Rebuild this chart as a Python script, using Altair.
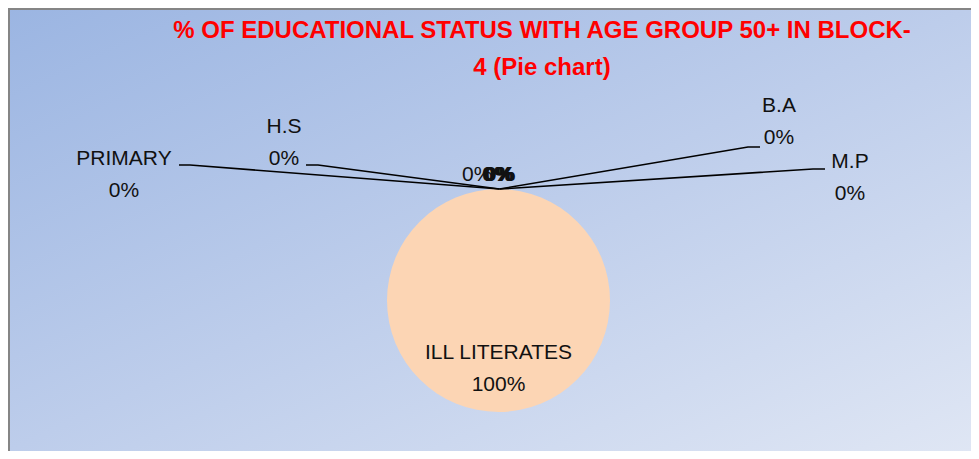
import altair as alt
import pandas as pd

# ---- data ----
categories = ["ILL LITERATES", "PRIMARY", "H.S", "B.A", "M.P", "MIDDLE", "H.S.S", "M.A"]
values = [100, 0, 0, 0, 0, 0, 0, 0]
title_lines = ["% OF EDUCATIONAL STATUS WITH AGE GROUP 50+ IN BLOCK-", "4 (Pie chart)"]

# ---- layout (chart pixel coordinates, origin = top-left of canvas) ----
W, H = 963, 443
CX, CY, R = 490.5, 292.5, 111.5
FONT = "Liberation Sans"
# label anchors: (text center x, first line y, leader start x, leader y, leader elbow x)
label_layout = {
    "PRIMARY": (116, 151, 171, 157, 182),
    "H.S": (276, 119, 298, 157, 310),
    "B.A": (771, 98, 752, 139, 740),
    "M.P": (842, 154, 817, 161, 805),
}
# overlapping zero labels drawn at the pie top (names hidden by Excel)
center_layout = {"MIDDLE": 454, "H.S.S": 474, "M.A": 476}
CENTER_Y = 167

total = sum(values)
df = pd.DataFrame({"category": categories, "value": values})
df["pct"] = [f"{round(v / total * 100)}%" for v in values]

x_sc = alt.Scale(domain=[0, W], range=[0, W])
y_sc = alt.Scale(domain=[0, H], range=[0, H])

bg = alt.Chart(pd.DataFrame({"a": [0]})).mark_rect(
    fill=alt.Gradient(
        gradient="linear", x1=0, y1=0, x2=1, y2=1,
        stops=[alt.GradientStop(color="#9bb5e2", offset=0),
               alt.GradientStop(color="#bdcdeb", offset=0.5),
               alt.GradientStop(color="#dfe6f4", offset=1)],
    ),
).encode(x=alt.value(0), x2=alt.value(W), y=alt.value(0), y2=alt.value(H))

border = alt.Chart(pd.DataFrame({"a": [0]})).mark_rule(color="#858585", strokeWidth=2)
border_left = border.encode(x=alt.value(1), y=alt.value(0), y2=alt.value(H))
border_top = border.encode(x=alt.value(0), x2=alt.value(W), y=alt.value(1))

pie = alt.Chart(df).mark_arc(outerRadius=R, stroke=None).encode(
    theta=alt.Theta("value:Q", stack=True),
    color=alt.Color("category:N", scale=alt.Scale(domain=categories, range=["#fcd5b4"] * len(categories)), legend=None),
    x=alt.value(CX), y=alt.value(CY),
)

# leader lines
rows = []
for name, (tx, ty, lx, ly, ex) in label_layout.items():
    rows += [
        {"k": name, "o": 0, "x": lx, "y": ly},
        {"k": name, "o": 1, "x": ex, "y": ly},
        {"k": name, "o": 2, "x": CX + 1, "y": CY - R},
    ]
lines = alt.Chart(pd.DataFrame(rows)).mark_line(color="#000000", strokeWidth=1.6).encode(
    x=alt.X("x:Q", scale=x_sc, axis=None),
    y=alt.Y("y:Q", scale=y_sc, axis=None),
    detail="k:N",
    order="o:Q",
)

lab_df = df[df["category"].isin(label_layout.keys())].copy()
lab_df["tx"] = [label_layout[c][0] for c in lab_df["category"]]
lab_df["ty"] = [label_layout[c][1] for c in lab_df["category"]]
lab_df["txt"] = lab_df["category"] + "\n" + lab_df["pct"]
labels = alt.Chart(lab_df).mark_text(
    font=FONT, fontSize=21, color="#111111", lineBreak="\n", lineHeight=32, baseline="middle", align="center"
).encode(
    x=alt.X("tx:Q", scale=x_sc, axis=None),
    y=alt.Y("ty:Q", scale=y_sc, axis=None),
    text="txt:N",
)

cen_df = df[df["category"].isin(center_layout.keys())].copy()
cen_df["tx"] = [center_layout[c] for c in cen_df["category"]]
cen_df["ty"] = CENTER_Y
center_labels = alt.Chart(cen_df).mark_text(
    font=FONT, fontSize=21, color="#111111", baseline="middle", align="left"
).encode(
    x=alt.X("tx:Q", scale=x_sc, axis=None),
    y=alt.Y("ty:Q", scale=y_sc, axis=None),
    text="pct:N",
)
center_bold = alt.Chart(cen_df[cen_df["category"] != "MIDDLE"]).mark_text(
    font=FONT, fontSize=21, fontWeight="bold", color="#111111", baseline="middle", align="left", dx=1
).encode(
    x=alt.X("tx:Q", scale=x_sc, axis=None),
    y=alt.Y("ty:Q", scale=y_sc, axis=None),
    text="pct:N",
)

big = df[df["value"] == total].copy()
big["txt"] = big["category"] + "\n" + big["pct"]
big_label = alt.Chart(big).mark_text(
    font=FONT, fontSize=21, color="#111111", lineBreak="\n", lineHeight=32, baseline="middle", align="center"
).encode(
    x=alt.value(CX), y=alt.value(CY + 52), text="txt:N"
)

title_df = pd.DataFrame({"t": ["\n".join(title_lines)]})
title = alt.Chart(title_df).mark_text(
    font=FONT, fontSize=24, fontWeight="bold", color="#ff0000", lineBreak="\n", lineHeight=37,
    baseline="middle", align="center"
).encode(x=alt.value(534), y=alt.value(23), text="t:N")

chart = alt.layer(
    bg, border_left, border_top, pie, lines, labels, center_labels, center_bold, big_label, title
).properties(
    width=W, height=H, padding=0, autosize=alt.AutoSizeParams(type="none")
).configure_view(stroke=None).configure(background="#ffffff")

chart.save("out.html", embed_options={"renderer": "svg", "actions": False})
